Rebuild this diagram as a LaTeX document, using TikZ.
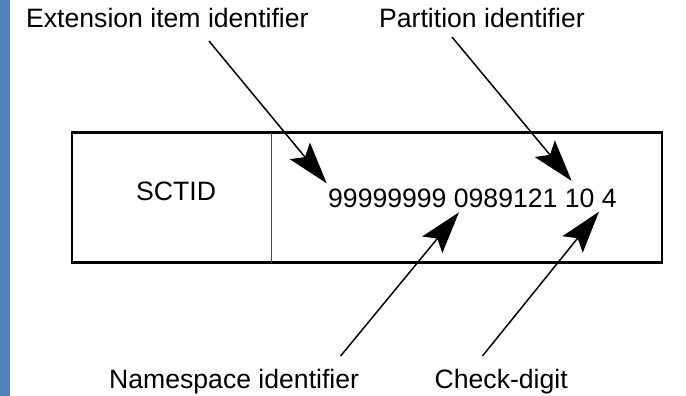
\documentclass[tikz,border=0pt]{standalone}
\usepackage{fontspec}
\setmainfont{Liberation Sans}
\usetikzlibrary{arrows.meta}
\definecolor{barblue}{HTML}{4F81BD}
\begin{document}
\begin{tikzpicture}[x=1pt,y=-1pt,
  lbl/.style={anchor=base west,inner sep=0pt,font=\fontsize{26.6}{32}\selectfont},
  pointer/.style={line width=1.5pt,-{Stealth[length=42pt,width=26pt,inset=8pt]}},
  frame/.style={line width=2.6pt},
  divider/.style={line width=1pt,draw=black!70}]
\useasboundingbox (0,0) rectangle (686,396);
\fill[white] (0,0) rectangle (686,396);
\fill[barblue] (0,0) rectangle (9.5,396);
% box
\draw[frame] (72,132.5) rectangle (662,262.5);
\draw[divider] (271,132.5) -- (271,262.5);
% labels
\node[lbl] (ext) at (26,28) {Extension item identifier};
\node[lbl] (part) at (379,28) {Partition identifier};
\node[lbl] (sctid) at (136,200) {SCTID};
\node[lbl] (num) at (328,207.3) {99999999 0989121 10 4};
\node[lbl] (ns) at (109,388) {Namespace identifier};
\node[lbl] (chk) at (434.5,388) {Check-digit};
% connector ends
\coordinate (extS) at (209,41);
\coordinate (extT) at (326.7,183.3);
\coordinate (partS) at (452,37);
\coordinate (partT) at (571.7,181);
\coordinate (nsS) at (340.6,356);
\coordinate (nsT) at (459,212.3);
\coordinate (chkS) at (482.5,356);
\coordinate (chkT) at (599,211.7);
\draw[pointer] (extS) -- (extT);
\draw[pointer] (partS) -- (partT);
\draw[pointer] (nsS) -- (nsT);
\draw[pointer] (chkS) -- (chkT);
\end{tikzpicture}
\end{document}
